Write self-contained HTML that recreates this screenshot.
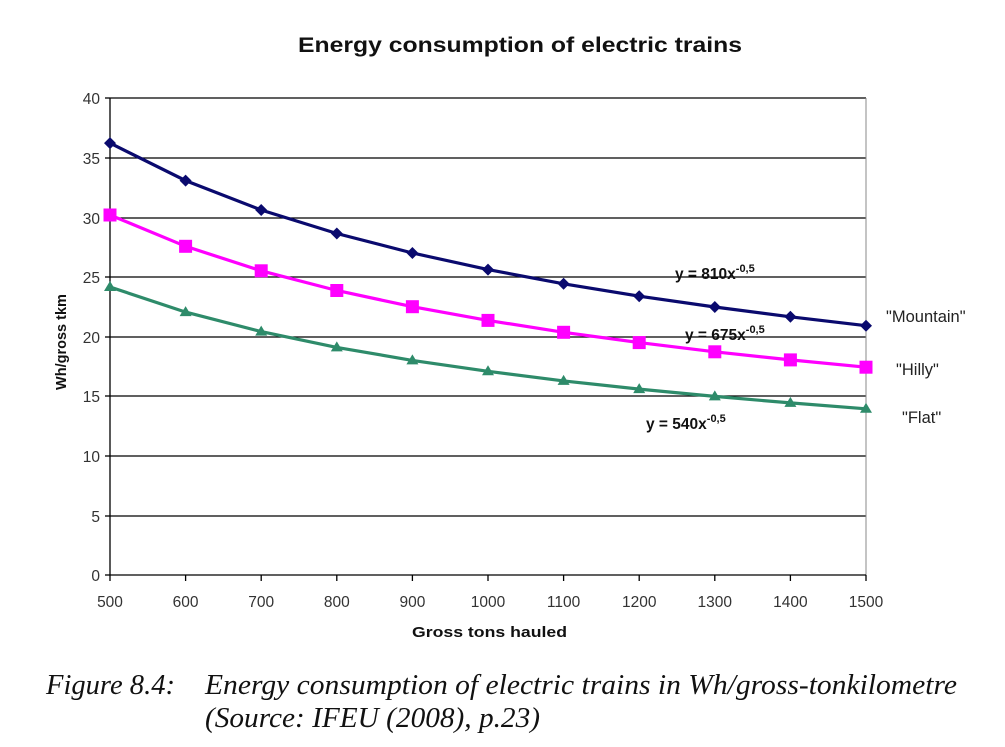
<!DOCTYPE html>
<html><head><meta charset="utf-8"><style>
html,body{margin:0;padding:0;background:#fff;}
svg{display:block;}
</style></head><body>
<svg width="1005" height="747" xmlns="http://www.w3.org/2000/svg" font-family="Liberation Sans, Arial, sans-serif">
<rect width="1005" height="747" fill="#fff"/>
<text x="298" y="52" textLength="444" lengthAdjust="spacingAndGlyphs" font-size="21" font-weight="bold" fill="#111">Energy consumption of electric trains</text>
<g stroke="#000" stroke-width="1.2">
<line x1="110" y1="98" x2="866" y2="98"/>
<line x1="110" y1="158" x2="866" y2="158"/>
<line x1="110" y1="218" x2="866" y2="218"/>
<line x1="110" y1="277" x2="866" y2="277"/>
<line x1="110" y1="337" x2="866" y2="337"/>
<line x1="110" y1="396" x2="866" y2="396"/>
<line x1="110" y1="456" x2="866" y2="456"/>
<line x1="110" y1="516" x2="866" y2="516"/>
</g>
<line x1="866" y1="98" x2="866" y2="575" stroke="#888" stroke-width="1"/>
<g stroke="#000" stroke-width="1.3">
<line x1="110" y1="98" x2="110" y2="575"/>
<line x1="110" y1="575" x2="866" y2="575"/>
<line x1="105" y1="98" x2="110" y2="98"/><line x1="105" y1="158" x2="110" y2="158"/><line x1="105" y1="218" x2="110" y2="218"/><line x1="105" y1="277" x2="110" y2="277"/><line x1="105" y1="337" x2="110" y2="337"/><line x1="105" y1="396" x2="110" y2="396"/><line x1="105" y1="456" x2="110" y2="456"/><line x1="105" y1="516" x2="110" y2="516"/><line x1="105" y1="575" x2="110" y2="575"/>
<line x1="110" y1="575" x2="110" y2="581"/><line x1="185.6" y1="575" x2="185.6" y2="581"/><line x1="261.2" y1="575" x2="261.2" y2="581"/><line x1="336.8" y1="575" x2="336.8" y2="581"/><line x1="412.4" y1="575" x2="412.4" y2="581"/><line x1="488" y1="575" x2="488" y2="581"/><line x1="563.6" y1="575" x2="563.6" y2="581"/><line x1="639.2" y1="575" x2="639.2" y2="581"/><line x1="714.8" y1="575" x2="714.8" y2="581"/><line x1="790.4" y1="575" x2="790.4" y2="581"/><line x1="866" y1="575" x2="866" y2="581"/>
</g>
<g font-size="15.5" fill="#333" text-anchor="end">
<text x="100" y="104">40</text><text x="100" y="164">35</text><text x="100" y="224">30</text><text x="100" y="283">25</text><text x="100" y="343">20</text><text x="100" y="402">15</text><text x="100" y="462">10</text><text x="100" y="522">5</text><text x="100" y="581">0</text>
</g>
<g font-size="15.5" fill="#333" text-anchor="middle">
<text x="110" y="607">500</text><text x="185.6" y="607">600</text><text x="261.2" y="607">700</text><text x="336.8" y="607">800</text><text x="412.4" y="607">900</text><text x="488" y="607">1000</text><text x="563.6" y="607">1100</text><text x="639.2" y="607">1200</text><text x="714.8" y="607">1300</text><text x="790.4" y="607">1400</text><text x="866" y="607">1500</text>
</g>
<text x="412" y="637" textLength="155" lengthAdjust="spacingAndGlyphs" font-size="15" font-weight="bold" fill="#111">Gross tons hauled</text>
<text transform="translate(66,342) rotate(-90)" text-anchor="middle" font-size="14.5" font-weight="bold" fill="#111">Wh/gross tkm</text>
<polyline fill="none" stroke="#0a0a6e" stroke-width="3.2" points="110,143.1 185.6,180.6 261.2,210 336.8,233.5 412.4,253 488,269.6 563.6,283.8 639.2,296.2 714.8,307 790.4,316.8 866,325.7"/>
<polyline fill="none" stroke="#ff00ff" stroke-width="3.2" points="110,215 185.6,246.3 261.2,270.8 336.8,290.5 412.4,306.7 488,320.4 563.6,332.3 639.2,342.6 714.8,351.8 790.4,359.9 866,367.2"/>
<polyline fill="none" stroke="#2e8b6a" stroke-width="3.2" points="110,287 185.6,312.1 261.2,331.6 336.8,347.4 412.4,360.4 488,371.3 563.6,380.9 639.2,389.1 714.8,396.4 790.4,402.9 866,408.8"/>
<g fill="#0a0a6e">
<path d="M110,137.1l6,6-6,6-6-6z"/><path d="M185.6,174.6l6,6-6,6-6-6z"/><path d="M261.2,204l6,6-6,6-6-6z"/><path d="M336.8,227.5l6,6-6,6-6-6z"/><path d="M412.4,247l6,6-6,6-6-6z"/><path d="M488,263.6l6,6-6,6-6-6z"/><path d="M563.6,277.8l6,6-6,6-6-6z"/><path d="M639.2,290.2l6,6-6,6-6-6z"/><path d="M714.8,301l6,6-6,6-6-6z"/><path d="M790.4,310.8l6,6-6,6-6-6z"/><path d="M866,319.7l6,6-6,6-6-6z"/>
</g>
<g fill="#ff00ff">
<rect x="103.5" y="208.5" width="13" height="13"/><rect x="179.1" y="239.8" width="13" height="13"/><rect x="254.7" y="264.3" width="13" height="13"/><rect x="330.3" y="284" width="13" height="13"/><rect x="405.9" y="300.2" width="13" height="13"/><rect x="481.5" y="313.9" width="13" height="13"/><rect x="557.1" y="325.8" width="13" height="13"/><rect x="632.7" y="336.1" width="13" height="13"/><rect x="708.3" y="345.3" width="13" height="13"/><rect x="783.9" y="353.4" width="13" height="13"/><rect x="859.5" y="360.7" width="13" height="13"/>
</g>
<g fill="#2e8b6a">
<path d="M110,281l6,10h-12z"/><path d="M185.6,306.1l6,10h-12z"/><path d="M261.2,325.6l6,10h-12z"/><path d="M336.8,341.4l6,10h-12z"/><path d="M412.4,354.4l6,10h-12z"/><path d="M488,365.3l6,10h-12z"/><path d="M563.6,374.9l6,10h-12z"/><path d="M639.2,383.1l6,10h-12z"/><path d="M714.8,390.4l6,10h-12z"/><path d="M790.4,396.9l6,10h-12z"/><path d="M866,402.8l6,10h-12z"/>
</g>
<g font-size="15.5" font-weight="bold" fill="#111">
<text x="675" y="279">y = 810x<tspan font-size="11" dy="-7">-0,5</tspan></text>
<text x="685" y="340">y = 675x<tspan font-size="11" dy="-7">-0,5</tspan></text>
<text x="646" y="429">y = 540x<tspan font-size="11" dy="-7">-0,5</tspan></text>
</g>
<g font-size="16.5" fill="#222">
<text x="886" y="322">"Mountain"</text>
<text x="896" y="375">"Hilly"</text>
<text x="902" y="423">"Flat"</text>
</g>
<g font-family="Liberation Serif, Times New Roman, serif" font-style="italic" font-size="28" fill="#111">
<text x="46" y="694" textLength="129" lengthAdjust="spacingAndGlyphs">Figure 8.4:</text>
<text x="205" y="694" textLength="752" lengthAdjust="spacingAndGlyphs">Energy consumption of electric trains in Wh/gross-tonkilometre</text>
<text x="205" y="727" textLength="335" lengthAdjust="spacingAndGlyphs">(Source: IFEU (2008), p.23)</text>
</g>
</svg>
</body></html>
